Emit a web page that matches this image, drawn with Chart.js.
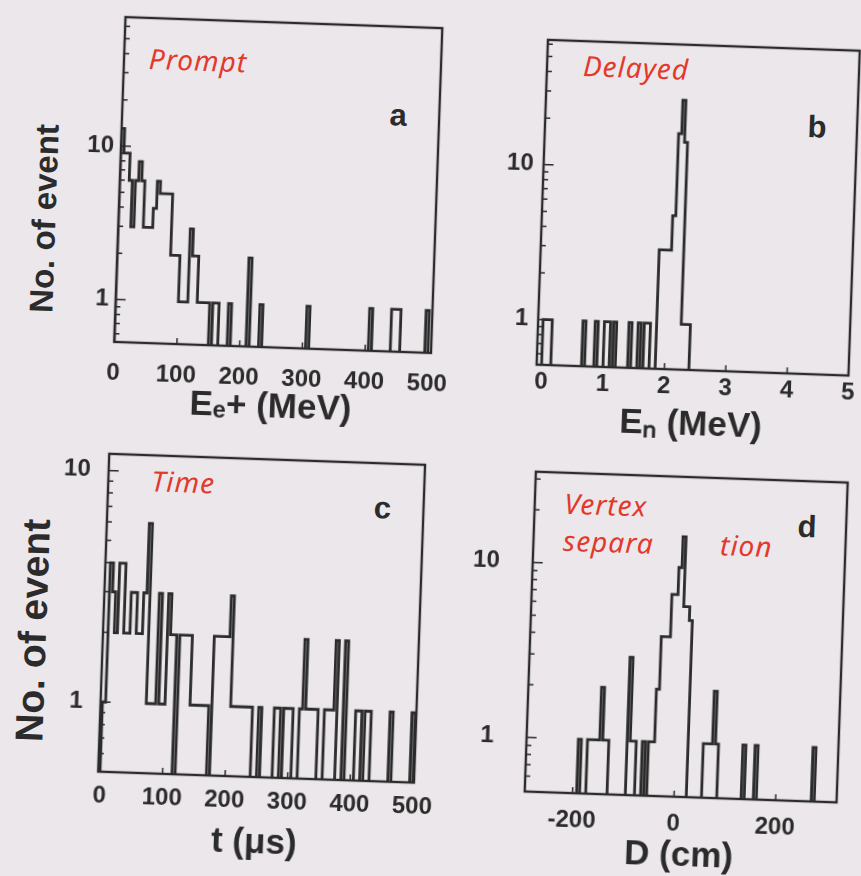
<!DOCTYPE html>
<html>
<head>
<meta charset="utf-8">
<script src="https://cdn.jsdelivr.net/npm/chart.js@4.4.1/dist/chart.umd.min.js"></script>
<style>
  html, body { margin: 0; padding: 0; width: 861px; height: 876px; overflow: hidden; background: #ebe7ea; }
  /* the scanned page sits a little crooked, so the whole sheet is turned by 2 degrees */
  #page { position: absolute; left: 0; top: 0; width: 861px; height: 876px;
          transform-origin: 430.5px 438px; transform: rotate(2deg); }
  .panel { position: absolute; }
  .lbl { position: absolute; transform: translate(-50%, -50%); white-space: nowrap;
         font-family: 'Liberation Sans', Arial, sans-serif; color: #2b2b2b; }
  .ytitle { font-weight: bold; transform: translate(-50%, -50%) rotate(-90deg); }
  .letter { font-weight: bold; font-size: 31px; }
  .hand { font-family: 'Noto Sans', sans-serif; font-style: italic; font-size: 28px;
          color: #e3392c; letter-spacing: 1px; }
</style>
</head>
<body>
<div id="page">
  <div class="lbl ytitle" style="left:37px; top:232px; font-size:33px;">No. of event</div>
  <div class="lbl ytitle" style="left:40px; top:644px; font-size:39px;">No. of event</div>

  <div class="lbl letter" style="left:387px; top:117px;">a</div>
  <div class="lbl letter" style="left:806px; top:114px;">b</div>
  <div class="lbl letter" style="left:385px; top:510px;">c</div>
  <div class="lbl letter" style="left:810px; top:514px;">d</div>

  <div class="lbl hand" style="left:185px; top:68px;">Prompt</div>
  <div class="lbl hand" style="left:623px; top:60px;">Delayed</div>
  <div class="lbl hand" style="left:185px; top:490px;">Time</div>
  <div class="lbl hand" style="left:608px; top:498px;">Vertex</div>
  <div class="lbl hand" style="left:612px; top:535px;">separa</div>
  <div class="lbl hand" style="left:750px; top:534px;">tion</div>
</div>

<script>
// (a) prompt energy, 5 MeV bins: lower bin edge and counts
const promptE = [0, 5, 10, 15, 20, 25, 30, 35, 40, 45, 50, 55, 60, 65, 70, 75, 80, 85, 90, 95,
  100, 105, 110, 115, 120, 125, 130, 135, 140, 145, 155, 160, 180, 210, 230, 305, 405, 440, 445, 450, 495];
const promptN = [13, 9, 9, 6, 3, 6, 8, 6, 3, 3, 3, 4, 6, 5, 5, 5, 5, 2, 2, 2,
  1, 1, 1, 3, 2, 2, 1, 1, 1, 1, 1, 1, 1, 2, 1, 1, 1, 1, 1, 1, 1];

// (b) delayed energy, 0.05 MeV bins
const delayedE = [0, 0.05, 0.1, 0.65, 0.85, 1.0, 1.05, 1.15, 1.4, 1.55, 1.65, 1.7,
  1.85, 1.9, 1.95, 2.0, 2.05, 2.1, 2.15, 2.2, 2.25, 2.3, 2.35];
const delayedN = [1, 1, 1, 1, 1, 1, 1, 1, 1, 1, 1, 1,
  3, 3, 3, 3, 5, 17, 28, 15, 1, 1, 1];

// (c) time difference, 5 us bins
const timeT = [0, 5, 10, 15, 20, 25, 30, 35, 40, 45, 50, 55, 60, 65, 70, 75, 80, 85, 90, 95,
  100, 105, 110, 120, 125, 130, 135, 140, 145, 150, 155, 160, 165, 175, 180, 185, 190, 195, 200, 205,
  210, 215, 220, 225, 230, 235, 250, 275, 280, 290, 295, 300, 315, 320, 325, 330, 335, 340, 355, 360,
  365, 370, 385, 405, 410, 420, 425, 460, 495];
const timeN = [1, 4, 3, 2, 4, 4, 2, 2, 3, 3, 2, 2, 3, 6, 1, 1, 1, 3, 1, 1,
  3, 2, 2, 2, 2, 2, 2, 1, 1, 1, 1, 1, 1, 2, 2, 2, 2, 2, 3, 1,
  1, 1, 1, 1, 1, 1, 1, 1, 1, 1, 1, 1, 1, 2, 1, 1, 1, 1, 1, 1,
  1, 2, 2, 1, 1, 1, 1, 1, 1];

// (d) vertex separation, 6 cm bins
const vertexD = [-192, -174, -168, -162, -156, -150, -144, -138, -96, -90, -84, -66, -54, -48,
  -42, -36, -30, -24, -18, -12, -6, 0, 6, 12, 18, 54, 60, 66, 72, 78, 132, 156, 270];
const vertexN = [1, 1, 1, 1, 1, 2, 1, 1, 3, 1, 1, 1, 1, 1,
  2, 4, 4, 4, 7, 7, 10, 15, 6, 6, 5, 1, 1, 1, 2, 1, 1, 1, 1];

// axis ticks
const ticksA = [0, 100, 200, 300, 400, 500];
const ticksB = [0, 1, 2, 3, 4, 5];
const ticksC = [0, 100, 200, 300, 400, 500];
const ticksD = [-200, 0, 200];

const INK = '#2b2b2b';
const FONT = "'Liberation Sans', Arial, sans-serif";
const FLOOR = 0.01;            // empty bins sit below the log axis and get clipped
const YW = 70, XH = 95, PT = 50, PR = 50;

// outline histogram as a stepped line: rise at each bin, drop where the next bin is empty
function histPoints(lo, n, w, xmin) {
  const pts = [{ x: xmin, y: FLOOR }];
  lo.forEach((x, i) => {
    pts.push({ x: x, y: n[i] });
    const hi = x + w;
    if (i === lo.length - 1 || Math.abs(lo[i + 1] - hi) > 1e-6) pts.push({ x: hi, y: FLOOR });
  });
  return pts;
}

// box round the plot plus small inward ticks, as on the original
const frame = {
  id: 'frame',
  afterDatasetsDraw(chart) {
    const { ctx, chartArea: a, scales: { x, y } } = chart;
    ctx.save();
    ctx.strokeStyle = INK;
    ctx.lineWidth = 2.4;
    ctx.strokeRect(a.left, a.top, a.width, a.height);
    ctx.lineWidth = 1.5;
    ctx.beginPath();
    y.ticks.forEach(t => {
      const m = t.value / Math.pow(10, Math.floor(Math.log10(t.value) + 1e-9));
      if (Math.abs(m - Math.round(m)) > 1e-6) return;
      const py = y.getPixelForValue(t.value);
      if (py < a.top + 3 || py > a.bottom - 3) return;
      const len = Math.round(m) === 1 ? 10 : 5;
      ctx.moveTo(a.left, py);
      ctx.lineTo(a.left + len, py);
    });
    x.ticks.forEach(t => {
      const px = x.getPixelForValue(t.value);
      if (px < a.left + 3 || px > a.right - 3) return;
      ctx.moveTo(px, a.bottom);
      ctx.lineTo(px, a.bottom - 6);
    });
    ctx.stroke();
    ctx.restore();
  }
};

const panels = [
  { box: [111, 28, 317, 325], lo: promptE, n: promptN, w: 5, x: [0, 505], y: [0.53, 69],
    xTicks: ticksA, xTitle: 'E\u2091+ (MeV)', xPad: 17, tPad: 14, yPad: 7 },
  { box: [534, 36, 312, 325], lo: delayedE, n: delayedN, w: 0.05, x: [-0.08, 5], y: [0.51, 64],
    xTicks: ticksB, xTitle: 'E\u2099 (MeV)', xPad: 3, tPad: 19, yPad: 10 },
  { box: [110, 465, 316, 318], lo: timeT, n: timeN, w: 5, x: [-3, 502], y: [0.5, 11.8],
    xTicks: ticksC, xTitle: 't (\u03bcs)', xPad: 10, tPad: 8, yPad: 18 },
  { box: [537, 468, 312, 320], lo: vertexD, n: vertexN, w: 6, x: [-294, 320], y: [0.49, 33],
    xTicks: ticksD, xTitle: 'D (cm)', xPad: 13, tPad: 15, yPad: 33 }
];

const page = document.getElementById('page');

panels.forEach(p => {
  const [L, T, W, H] = p.box;
  const div = document.createElement('div');
  div.className = 'panel';
  div.style.left = (L - YW) + 'px';
  div.style.top = (T - PT) + 'px';
  const cv = document.createElement('canvas');
  cv.width = YW + W + PR;
  cv.height = PT + H + XH;
  div.appendChild(cv);
  page.appendChild(div);

  new Chart(cv, {
    type: 'line',
    data: {
      datasets: [{
        data: histPoints(p.lo, p.n, p.w, p.x[0]),
        stepped: true,
        borderColor: INK,
        borderWidth: 2.8,
        pointRadius: 0,
        fill: false
      }]
    },
    options: {
      responsive: false,
      animation: false,
      events: [],
      layout: { padding: { top: PT, right: PR, left: 0, bottom: 0 } },
      plugins: { legend: { display: false }, tooltip: { enabled: false } },
      scales: {
        x: {
          type: 'linear',
          min: p.x[0],
          max: p.x[1],
          grid: { display: false, drawTicks: false },
          border: { display: false },
          afterBuildTicks: s => { s.ticks = p.xTicks.map(v => ({ value: v })); },
          afterFit: s => { s.height = XH; },
          ticks: {
            autoSkip: false, maxRotation: 0, padding: p.xPad, color: INK,
            font: { family: FONT, weight: 'bold', size: 24 },
            callback: v => String(v)
          },
          title: {
            display: true, text: p.xTitle, color: INK,
            font: { family: FONT, weight: 'bold', size: 35 },
            padding: { top: 0, bottom: p.tPad }
          }
        },
        y: {
          type: 'logarithmic',
          min: p.y[0],
          max: p.y[1],
          grid: { display: false, drawTicks: false },
          border: { display: false },
          afterFit: s => { s.width = YW; },
          ticks: {
            autoSkip: false, padding: p.yPad, color: INK,
            font: { family: FONT, weight: 'bold', size: 24 },
            callback: v => (v === 1 || v === 10) ? String(v) : ''
          }
        }
      }
    },
    plugins: [frame]
  });
});
</script>
</body>
</html>
